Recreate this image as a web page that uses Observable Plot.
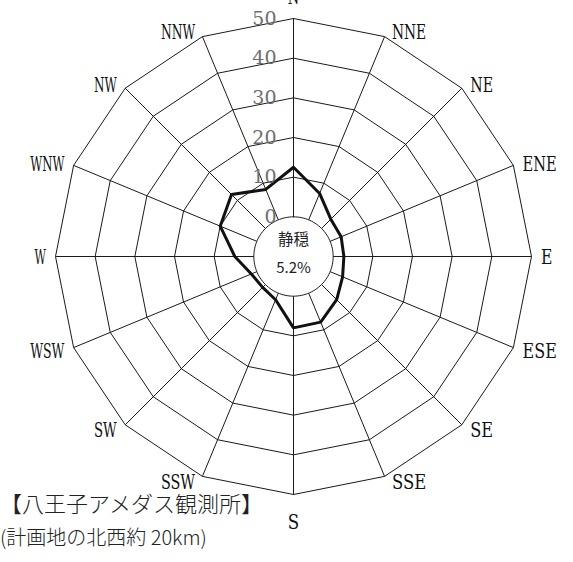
<!DOCTYPE html>
<html><head><meta charset="utf-8">
<script src="https://cdn.jsdelivr.net/npm/d3@7"></script>
<script src="https://cdn.jsdelivr.net/npm/@observablehq/plot@0.6"></script>
<style>
body{margin:0;background:#fff;}
#wrap{position:relative;width:573px;height:562px;overflow:hidden;background:#fff;}
#wrap svg{position:absolute;left:0;top:0;}
.cap{position:absolute;left:0;font-family:"Noto Sans CJK JP";font-weight:300;color:#222;white-space:nowrap;line-height:1;}
#c1{top:491px;font-size:22px;}
#c2{top:527px;font-size:20px;}
</style></head><body>
<div id="wrap"></div>
<script>
const directions = ["N","NNE","NE","ENE","E","ESE","SE","SSE","S","SSW","SW","WSW","W","WNW","NW","NNW"];
const frequency = [12.5, 7.2, 3.3, 3.0, 2.7, 3.4, 5.4, 7.9, 8.0, 1.8, 1.0, 1.5, 4.8, 10.0, 12.1, 8.3];
const ringLevels = [10, 20, 30, 40, 50];
const tickLabels = [0, 10, 20, 30, 40, 50];
const calmTitle = "静穏";
const calmValue = "5.2%";
const titleText = "【八王子アメダス観測所】";
const noteText = "(計画地の北西約 20km)";

const base = 10;            // the 0 ring sits at this radius (calm circle)
const rMax = base + 50;
const n = directions.length;
const k = 238 / rMax;       // px per unit
const ang = i => i * 2 * Math.PI / n;
const px = (r, i) => r * Math.sin(ang(i));
const py = (r, i) => r * Math.cos(ang(i));

const rings = ringLevels.flatMap(level =>
  d3.range(n + 1).map(j => ({level, x: px(base + level, j % n), y: py(base + level, j % n)})));
const circle = d3.range(0, 361, 3).map(a => ({x: base * Math.sin(a * Math.PI / 180), y: base * Math.cos(a * Math.PI / 180)}));
const spokes = directions.map((d, i) => ({x1: px(base, i), y1: py(base, i), x2: px(rMax, i), y2: py(rMax, i)}));
const series = d3.range(n + 1).map(j => ({dir: directions[j % n], v: frequency[j % n],
  x: px(base + frequency[j % n], j % n), y: py(base + frequency[j % n], j % n)}));

const labels = directions.map((d, i) => {
  const s = Math.sin(ang(i)), c = Math.cos(ang(i));
  const side = Math.abs(s) < 1e-6 ? 0 : Math.sign(s);
  const dxp = side * (6 + 3.5 * Math.abs(s));
  let dyp = 1.5 - 5.5 * c;
  if (side === 0) dyp = c > 0 ? -21 : 28;
  return {d, side, x: rMax * s + dxp / k, y: rMax * c - dyp / k};
});

const serif = "DejaVu Serif";
const dirStyle = {x: "x", y: "y", text: "d", fontSize: 20, fontFamily: serif, fill: "#111"};

const chart = Plot.plot({
  width: 573, height: 562,
  x: {domain: [-rMax, rMax], range: [55, 531], axis: null},
  y: {domain: [-rMax, rMax], range: [494, 18], axis: null},
  style: {background: "transparent", overflow: "visible", fontFamily: "DejaVu Serif"},
  marks: [
    Plot.line(rings, {x: "x", y: "y", z: "level", stroke: "#1a1a1a", strokeWidth: 1}),
    Plot.link(spokes, {x1: "x1", y1: "y1", x2: "x2", y2: "y2", stroke: "#1a1a1a", strokeWidth: 1}),
    Plot.line(circle, {x: "x", y: "y", stroke: "#1a1a1a", strokeWidth: 1}),
    Plot.line(series, {x: "x", y: "y", stroke: "#111", strokeWidth: 3, strokeLinejoin: "miter"}),
    Plot.text(tickLabels, {x: d => 0, y: d => base + d, text: d => String(d), textAnchor: "end", dx: -17,
      fill: "#6e6e6e", fontSize: 19, fontFamily: serif}),
    Plot.text(labels.filter(l => l.side > 0), {...dirStyle, textAnchor: "start"}),
    Plot.text(labels.filter(l => l.side < 0), {...dirStyle, textAnchor: "end"}),
    Plot.text(labels.filter(l => l.side === 0), {...dirStyle, textAnchor: "middle"}),
    Plot.text([calmTitle], {x: d => 0, y: d => 0, text: d => d, dy: -16, fontSize: 15.5,
      fill: "#222", fontFamily: "Noto Sans CJK JP"}),
    Plot.text([calmValue], {x: d => 0, y: d => 0, text: d => d, dy: 12, fontSize: 15,
      fill: "#222", fontFamily: "Noto Sans CJK JP"})
  ]
});

const wrap = document.getElementById("wrap");
wrap.appendChild(chart);
const dirSet = new Set(directions);
chart.querySelectorAll('text').forEach(t => {
  if (dirSet.has(t.textContent)) {
    t.setAttribute("textLength", t.textContent.length * 11.4);
    t.setAttribute("lengthAdjust", "spacingAndGlyphs");
  }
});
const c1 = document.createElement("div"); c1.className = "cap"; c1.id = "c1"; c1.textContent = titleText;
const c2 = document.createElement("div"); c2.className = "cap"; c2.id = "c2"; c2.textContent = noteText;
wrap.appendChild(c1); wrap.appendChild(c2);
</script>
</body></html>
